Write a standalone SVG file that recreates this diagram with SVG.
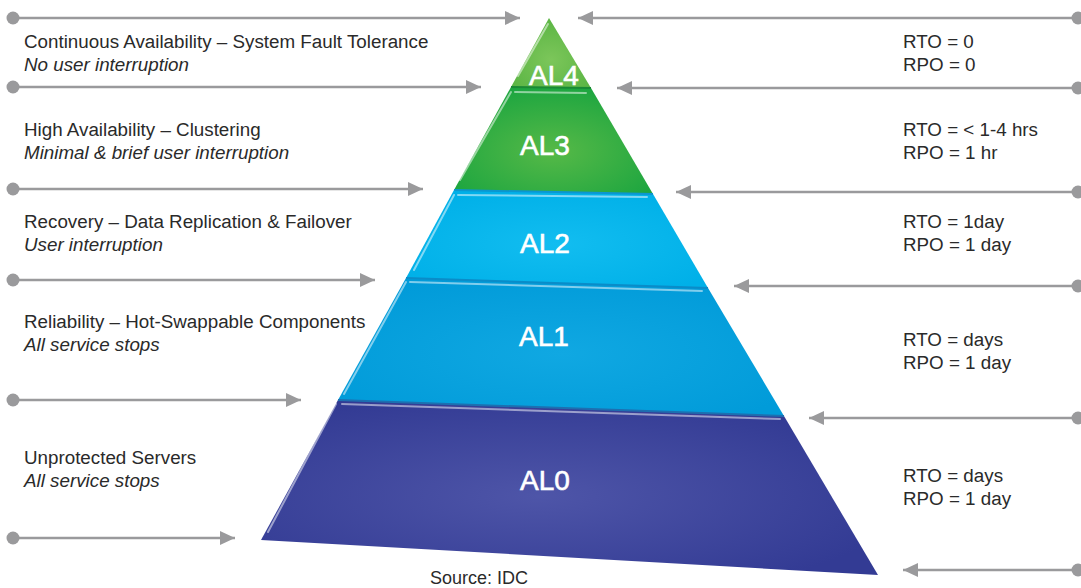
<svg xmlns="http://www.w3.org/2000/svg" width="1081" height="588" viewBox="0 0 1081 588">
<defs>
<style>
.c{stroke:#9a9a9c;stroke-width:2.6;fill:none;marker-start:url(#dot);marker-end:url(#arr)}
.t{font-family:"Liberation Sans",Arial,sans-serif;font-size:18.8px;fill:#2a2a2a}
.i{font-style:italic}
.lab{font-family:"Liberation Sans",Arial,sans-serif;font-size:28px;fill:#fff;stroke:#fff;stroke-width:0.6;text-anchor:middle}
.hl{stroke:#fff;stroke-opacity:0.5;stroke-width:2;fill:none;stroke-linecap:round}
</style>
<marker id="arr" markerUnits="userSpaceOnUse" markerWidth="16" markerHeight="14" refX="15" refY="7" orient="auto">
<path d="M0,0 L15,7 L0,14 Z" fill="#9a9a9c"/>
</marker>
<marker id="dot" markerUnits="userSpaceOnUse" markerWidth="14" markerHeight="14" refX="7" refY="7" orient="auto">
<circle cx="7" cy="7" r="6.5" fill="#9a9a9c"/>
</marker>
<radialGradient id="g4" cx="0.5" cy="0.6" r="0.6"><stop offset="0" stop-color="#7cc65a"/><stop offset="1" stop-color="#5bb544"/></radialGradient>
<radialGradient id="g3" cx="0.5" cy="0.6" r="0.6"><stop offset="0" stop-color="#56b947"/><stop offset="1" stop-color="#1ea640"/></radialGradient>
<radialGradient id="g2" cx="0.5" cy="0.55" r="0.6"><stop offset="0" stop-color="#12bdf0"/><stop offset="1" stop-color="#00b0e8"/></radialGradient>
<radialGradient id="g1" cx="0.5" cy="0.55" r="0.6"><stop offset="0" stop-color="#10a8e2"/><stop offset="1" stop-color="#019bd9"/></radialGradient>
<radialGradient id="g0" cx="0.45" cy="0.55" r="0.6"><stop offset="0" stop-color="#4e55a8"/><stop offset="1" stop-color="#333b94"/></radialGradient>
</defs>

<g id="connectors">
<line class="c" x1="13" y1="18" x2="520" y2="18"/>
<line class="c" x1="13" y1="87" x2="481" y2="87"/>
<line class="c" x1="13" y1="189" x2="423" y2="189"/>
<line class="c" x1="13" y1="280" x2="375" y2="280"/>
<line class="c" x1="13" y1="400" x2="301" y2="400"/>
<line class="c" x1="13" y1="538" x2="235" y2="538"/>
<line class="c" x1="1078" y1="18" x2="578" y2="18"/>
<line class="c" x1="1078" y1="88" x2="617" y2="88"/>
<line class="c" x1="1078" y1="192" x2="676" y2="192"/>
<line class="c" x1="1078" y1="286" x2="734" y2="286"/>
<line class="c" x1="1078" y1="418" x2="809" y2="418"/>
<line class="c" x1="1078" y1="570" x2="903" y2="570"/>
</g>

<g id="al0">
<path d="M338,400 L784,416 L878,575 L261,540 Z" fill="url(#g0)"/>
<path class="hl" d="M268,532 L336,404 M342,404 L780,419"/>
<text class="lab" x="545" y="490">AL0</text>
</g>
<g id="al1">
<path d="M406,278 L708,288 L784,416 L338,400 Z" fill="url(#g1)"/>
<path d="M338,400 L784,416" stroke="#1d6fb0" stroke-width="2" fill="none"/>
<path class="hl" d="M344,394 L406,282 M410,282 L702,291"/>
<text class="lab" x="544" y="346">AL1</text>
</g>
<g id="al2">
<path d="M454,190 L653,194 L708,288 L406,278 Z" fill="url(#g2)"/>
<path d="M406,278 L708,288" stroke="#0a8cc8" stroke-width="2" fill="none"/>
<path class="hl" d="M414,270 L454,195 M458,195 L647,197"/>
<text class="lab" x="545" y="253">AL2</text>
</g>
<g id="al3">
<path d="M511,87 L591,88 L653,194 L454,190 Z" fill="url(#g3)"/>
<path d="M454,190 L653,194" stroke="#0c96cf" stroke-width="2" fill="none"/>
<path class="hl" d="M460,180 L511,92 M515,92 L586,93"/>
<text class="lab" x="545" y="155">AL3</text>
</g>
<g id="al4">
<path d="M549,18 L591,88 L511,87 Z" fill="url(#g4)"/>
<path d="M511,87 L591,88" stroke="#1a8a35" stroke-width="2" fill="none"/>
<path class="hl" d="M518,76 L548,24"/>
<text class="lab" x="554" y="85">AL4</text>
</g>

<g id="left-labels">
<text class="t" x="24" y="48">Continuous Availability – System Fault Tolerance</text>
<text class="t i" x="24" y="71">No user interruption</text>
<text class="t" x="24" y="136">High Availability – Clustering</text>
<text class="t i" x="24" y="159">Minimal &amp; brief user interruption</text>
<text class="t" x="24" y="228">Recovery – Data Replication &amp; Failover</text>
<text class="t i" x="24" y="251">User interruption</text>
<text class="t" x="24" y="328">Reliability – Hot-Swappable Components</text>
<text class="t i" x="24" y="351">All service stops</text>
<text class="t" x="24" y="464">Unprotected Servers</text>
<text class="t i" x="24" y="487">All service stops</text>
</g>
<g id="right-labels">
<text class="t" x="903" y="48">RTO = 0</text>
<text class="t" x="903" y="71">RPO = 0</text>
<text class="t" x="903" y="136">RTO = &lt; 1-4 hrs</text>
<text class="t" x="903" y="159">RPO = 1 hr</text>
<text class="t" x="903" y="228">RTO = 1day</text>
<text class="t" x="903" y="251">RPO = 1 day</text>
<text class="t" x="903" y="346">RTO = days</text>
<text class="t" x="903" y="369">RPO = 1 day</text>
<text class="t" x="903" y="482">RTO = days</text>
<text class="t" x="903" y="505">RPO = 1 day</text>
</g>
<text class="t" x="430" y="584" style="font-size:18px">Source: IDC</text>
</svg>
